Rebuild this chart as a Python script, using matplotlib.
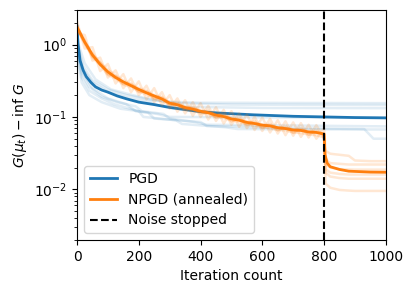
import matplotlib
matplotlib.use("Agg")
import matplotlib.pyplot as plt

# PGD: mean curve and individual runs
pgd_iter = [0, 3, 10, 20, 30, 45, 60, 80, 100, 130, 160, 200, 250, 300, 400, 460, 570, 700, 800, 900, 1000]
pgd_mean = [1.8, 1.03, 0.6, 0.44, 0.36, 0.3, 0.26, 0.235, 0.22, 0.195, 0.178, 0.16, 0.148, 0.135,
            0.118, 0.113, 0.107, 0.102, 0.1, 0.098, 0.097]

pgd_runs = [
    ([0, 5, 20, 50, 100, 160, 230, 300, 400, 1000], [1.6, 0.9, 0.5, 0.32, 0.24, 0.2, 0.175, 0.162, 0.157, 0.155]),
    ([0, 5, 20, 50, 100, 170, 240, 260, 350, 600, 1000], [1.5, 0.8, 0.45, 0.3, 0.22, 0.18, 0.16, 0.145, 0.138, 0.133, 0.132]),
    ([0, 5, 25, 60, 110, 180, 250, 330, 500, 1000], [1.7, 1.0, 0.55, 0.33, 0.24, 0.2, 0.17, 0.155, 0.148, 0.146]),
    ([0, 5, 15, 40, 80, 130, 190, 210, 280, 300, 380, 420, 1000],
     [1.4, 0.7, 0.4, 0.26, 0.19, 0.16, 0.14, 0.12, 0.11, 0.095, 0.085, 0.078, 0.074]),
    ([0, 5, 15, 40, 80, 120, 200, 215, 320, 340, 480, 520, 1000],
     [1.3, 0.6, 0.35, 0.23, 0.18, 0.15, 0.12, 0.1, 0.09, 0.08, 0.072, 0.068, 0.067]),
    ([0, 5, 15, 40, 80, 140, 230, 250, 400, 420, 700, 930, 960, 1000],
     [1.2, 0.55, 0.3, 0.2, 0.16, 0.13, 0.115, 0.095, 0.085, 0.075, 0.07, 0.068, 0.05, 0.05]),
    ([0, 5, 20, 50, 100, 160, 190, 260, 300, 1000], [1.5, 0.7, 0.4, 0.25, 0.18, 0.15, 0.12, 0.11, 0.1, 0.097]),
]

# NPGD (annealed): mean curve and individual runs
npgd_iter = [0, 25, 50, 75, 100, 125, 150, 175, 200, 225, 250, 275, 300, 325, 350, 375, 400,
             425, 450, 475, 500, 525, 550, 575, 600, 625, 650, 675, 700, 725, 750, 775, 800,
             803, 810, 820, 850, 880, 950, 1000]
npgd_mean = [1.75, 1.08, 0.72, 0.53, 0.42, 0.35, 0.305, 0.27, 0.24, 0.215, 0.195, 0.177, 0.155, 0.147,
             0.135, 0.128, 0.12, 0.114, 0.106, 0.101, 0.094, 0.09, 0.084, 0.081, 0.077, 0.075, 0.071,
             0.069, 0.066, 0.065, 0.062, 0.061, 0.058,
             0.03, 0.023, 0.0205, 0.0188, 0.0178, 0.0173, 0.0172]

run_iter = [0, 25, 50, 75, 100, 125, 150, 175, 200, 225, 250, 275, 300, 325, 350, 375, 400,
            425, 450, 475, 500, 525, 550, 575, 600, 625, 650, 675, 700, 725, 750, 775, 800,
            805, 820, 850, 880, 900, 950, 1000]
npgd_runs = [
    [2.1, 0.88, 0.92, 0.43, 0.54, 0.29, 0.39, 0.22, 0.31, 0.175, 0.25, 0.145, 0.2, 0.118, 0.17, 0.104, 0.155,
     0.092, 0.136, 0.081, 0.12, 0.073, 0.108, 0.066, 0.098, 0.061, 0.09, 0.056, 0.084, 0.053, 0.078, 0.05, 0.07,
     0.034, 0.031, 0.03, 0.029, 0.025, 0.0245, 0.0245],
    [1.65, 1.15, 0.68, 0.57, 0.39, 0.37, 0.285, 0.29, 0.22, 0.23, 0.18, 0.19, 0.145, 0.158, 0.124, 0.138, 0.11,
     0.124, 0.097, 0.109, 0.086, 0.097, 0.077, 0.088, 0.07, 0.081, 0.065, 0.075, 0.06, 0.07, 0.057, 0.066, 0.055,
     0.026, 0.023, 0.0225, 0.022, 0.022, 0.022, 0.022],
    [1.45, 1.35, 0.6, 0.66, 0.35, 0.44, 0.25, 0.34, 0.2, 0.27, 0.16, 0.22, 0.13, 0.18, 0.112, 0.16, 0.1,
     0.142, 0.088, 0.125, 0.078, 0.112, 0.07, 0.1, 0.064, 0.094, 0.059, 0.087, 0.055, 0.082, 0.052, 0.077, 0.05,
     0.022, 0.02, 0.019, 0.0188, 0.0187, 0.0187, 0.0187],
    [1.7, 1.02, 0.7, 0.55, 0.4, 0.36, 0.29, 0.28, 0.23, 0.22, 0.185, 0.18, 0.148, 0.15, 0.13, 0.132, 0.115,
     0.118, 0.1, 0.105, 0.09, 0.093, 0.08, 0.084, 0.073, 0.078, 0.068, 0.071, 0.063, 0.068, 0.06, 0.063, 0.057,
     0.019, 0.017, 0.0163, 0.016, 0.016, 0.016, 0.016],
    [1.6, 1.05, 0.66, 0.52, 0.38, 0.34, 0.28, 0.26, 0.225, 0.205, 0.18, 0.165, 0.15, 0.14, 0.128, 0.12, 0.116,
     0.108, 0.1, 0.096, 0.09, 0.085, 0.079, 0.076, 0.072, 0.07, 0.066, 0.065, 0.061, 0.06, 0.057, 0.056, 0.052,
     0.017, 0.015, 0.0143, 0.014, 0.014, 0.014, 0.014],
    [1.8, 1.1, 0.76, 0.56, 0.45, 0.37, 0.32, 0.28, 0.25, 0.225, 0.2, 0.185, 0.16, 0.152, 0.14, 0.133, 0.124,
     0.117, 0.11, 0.104, 0.098, 0.092, 0.087, 0.082, 0.079, 0.076, 0.072, 0.07, 0.068, 0.065, 0.064, 0.061, 0.059,
     0.012, 0.0105, 0.0098, 0.0096, 0.0095, 0.0095, 0.0095],
]

noise_stop = 800

fig, ax = plt.subplots(figsize=(4.14, 2.94), dpi=100)
fig.subplots_adjust(left=0.186, right=0.932, bottom=0.184, top=0.966)

for xs, ys in pgd_runs:
    ax.plot(xs, ys, color="C0", alpha=0.13, linewidth=1.8)
ax.plot(pgd_iter, pgd_mean, color="C0", linewidth=2, label="PGD")

for ys in npgd_runs:
    ax.plot(run_iter, ys, color="C1", alpha=0.18, linewidth=1.8)
ax.plot(npgd_iter, npgd_mean, color="C1", linewidth=2, label="NPGD (annealed)")

ax.axvline(noise_stop, color="black", linestyle="--", label="Noise stopped")

ax.set_yscale("log")
ax.set_xlim(0, 1000)
ax.set_ylim(2e-3, 3)
ax.set_xlabel("Iteration count")
ax.set_ylabel(r"$G(\mu_t) - \inf\, G$")
ax.legend(loc="lower left")

fig.savefig("out.png", dpi=100)
